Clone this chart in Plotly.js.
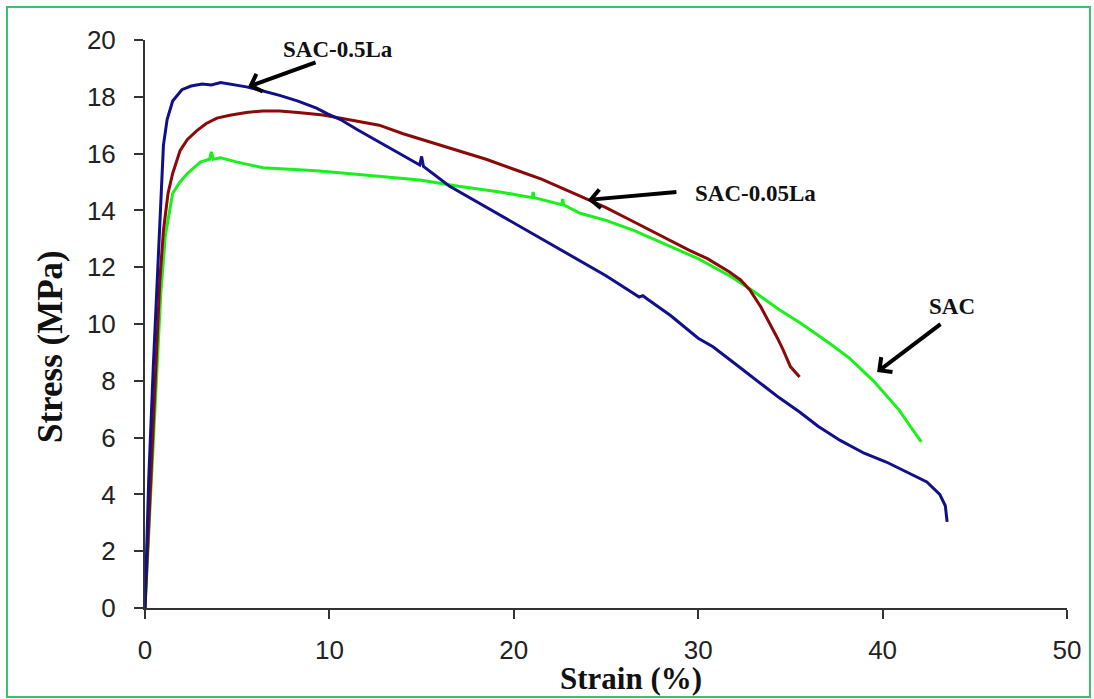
<!DOCTYPE html>
<html>
<head>
<meta charset="utf-8">
<script src="https://cdn.plot.ly/plotly-3.0.1.min.js"></script>
<style>
html,body{margin:0;padding:0;background:#fff;}
#chart{width:1094px;height:699px;}
</style>
</head>
<body>
<div id="chart"></div>
<script>
// SAC-0.5La (blue)
var strain_05La = [0,0.2,0.45,0.7,0.85,1.0,1.2,1.5,2.0,2.5,3.1,3.6,4.1,4.8,5.5,6.3,7.3,8.3,9.3,9.9,10.6,11.5,12.7,13.8,14.9,15.0,15.1,16.5,18,20,22.3,23.6,25,26.8,27.0,27.2,28.5,30.0,30.8,32,34.4,35.5,36.5,37.7,39,40.2,41.3,42.4,43.1,43.4,43.5];
var stress_05La = [0,4.5,8.5,12,14.5,16.3,17.2,17.85,18.25,18.38,18.45,18.42,18.5,18.42,18.35,18.22,18.05,17.85,17.6,17.4,17.2,16.85,16.4,16.0,15.6,15.9,15.55,14.86,14.3,13.55,12.7,12.2,11.7,10.95,11.0,10.9,10.3,9.5,9.2,8.6,7.4,6.9,6.4,5.9,5.45,5.14,4.8,4.44,4.0,3.6,3.03];
// SAC-0.05La (dark red)
var strain_005La = [0,0.25,0.55,0.8,1.0,1.25,1.5,1.9,2.3,2.8,3.3,3.9,4.6,5.5,6.4,7.3,8.3,9.65,11,12.7,14,15.5,17,18.5,20,21.5,23.6,25,26.5,28.1,29.5,30.5,31.7,32.3,32.8,33.4,33.9,34.3,34.6,35.0,35.5];
var stress_005La = [0,3.5,8,11.5,13.3,14.6,15.3,16.1,16.5,16.8,17.05,17.25,17.35,17.45,17.5,17.5,17.45,17.36,17.2,17.0,16.7,16.4,16.1,15.8,15.45,15.1,14.5,14.1,13.6,13.06,12.6,12.3,11.83,11.55,11.2,10.6,10.0,9.5,9.1,8.5,8.13];
// SAC (green)
var strain_SAC = [0,0.3,0.6,0.85,1.1,1.5,1.9,2.3,3.0,3.5,3.6,3.7,4.1,5,6.4,8,9.3,11,12.7,14.9,17,19.25,21,21.05,21.1,22.6,22.65,22.7,23.6,25,26.5,28.1,30,31.7,33,34.4,35.5,37.1,38.2,39.5,40.2,40.9,41.5,42.1];
var stress_SAC = [0,4,8,11,13.1,14.6,15.0,15.3,15.7,15.8,16.06,15.8,15.85,15.7,15.5,15.45,15.4,15.3,15.2,15.07,14.85,14.65,14.45,14.65,14.45,14.2,14.4,14.2,13.9,13.65,13.3,12.85,12.3,11.7,11.15,10.5,10.05,9.33,8.8,8.0,7.5,6.97,6.4,5.85];

var xTickVals = [0,10,20,30,40,50];
var yTickVals = [0,2,4,6,8,10,12,14,16,18,20];

var labels = ['SAC-0.5La','SAC-0.05La','SAC'];
var labelPos = [[10.47,19.68],[33.08,14.61],[43.76,10.63]];
var arrowHead = [[5.59,18.35],[24.02,14.37],[39.7,8.31]];
var arrowTail = [[69,-25],[90,-8],[65,-49]];

var traces = [
  {x: strain_SAC, y: stress_SAC, mode:'lines', line:{color:'#1af01a', width:3}, name:'SAC'},
  {x: strain_005La, y: stress_005La, mode:'lines', line:{color:'#8a0a0a', width:3}, name:'SAC-0.05La'},
  {x: strain_05La, y: stress_05La, mode:'lines', line:{color:'#10108a', width:3}, name:'SAC-0.5La'}
];

var annotations = [];
for (var i=0;i<labels.length;i++){
  annotations.push({x: labelPos[i][0], y: labelPos[i][1], xref:'x', yref:'y', text: '<b>'+labels[i]+'</b>', showarrow:false,
    xanchor:'center', yanchor:'middle',
    font:{family:'Liberation Serif, Times New Roman, serif', size:23, color:'#111'}});
  annotations.push({x: arrowHead[i][0], y: arrowHead[i][1], xref:'x', yref:'y', text:' ', showarrow:true,
    ax: arrowTail[i][0], ay: arrowTail[i][1], arrowhead:4, arrowsize:0.9, arrowwidth:4, arrowcolor:'#000',
    font:{size:1}});
}
annotations.push({x:0.527, y:-0.124, xref:'paper', yref:'paper', text:'<b>Strain (%)</b>', showarrow:false,
  xanchor:'center', yanchor:'middle',
  font:{family:'Liberation Serif, Times New Roman, serif', size:31, color:'#111'}});
annotations.push({x:-0.103, y:0.4595, xref:'paper', yref:'paper', text:'<b>Stress (MPa)</b>', showarrow:false, textangle:-90,
  xanchor:'center', yanchor:'middle',
  font:{family:'Liberation Serif, Times New Roman, serif', size:35, color:'#111'}});

var axisCommon = {showgrid:false, zeroline:false, showline:true, linecolor:'#333', linewidth:2,
  ticks:'outside', ticklen:9, tickwidth:2, tickcolor:'#333',
  tickfont:{family:'Liberation Sans, Arial, sans-serif', size:26, color:'#222'}};

var layout = {
  width:1094, height:699,
  margin:{l:145, r:27, t:40, b:91},
  paper_bgcolor:'#fff', plot_bgcolor:'#fff',
  showlegend:false,
  xaxis: Object.assign({}, axisCommon, {range:[0,50], tickvals:xTickVals, ticklabelstandoff:9}),
  yaxis: Object.assign({}, axisCommon, {range:[0,20], tickvals:yTickVals, ticklabelstandoff:13}),
  annotations: annotations,
  shapes:[{type:'rect', xref:'paper', yref:'paper', x0:-0.1497, x1:1.0249, y0:-0.1567, y1:1.0581,
    line:{color:'#3cc070', width:2}, fillcolor:'rgba(0,0,0,0)', layer:'below'}]
};

Plotly.newPlot('chart', traces, layout, {displayModeBar:false, staticPlot:true});
</script>
</body>
</html>
